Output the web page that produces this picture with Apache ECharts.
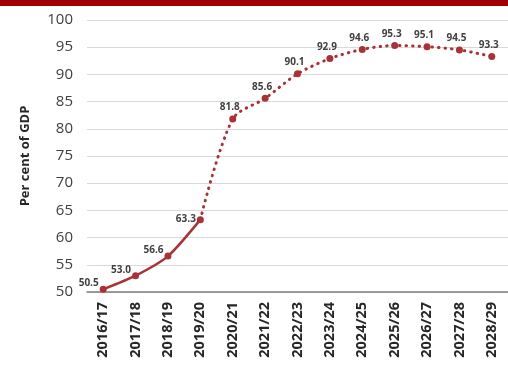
<!DOCTYPE html>
<html>
<head>
<meta charset="utf-8">
<script src="https://cdn.jsdelivr.net/npm/echarts@6/dist/echarts.min.js"></script>
<style>
	html, body { margin: 0; padding: 0; background: #ffffff; }
	.topBar { position: absolute; left: 0; top: 0; width: 508px; height: 6px; background: #a00000; }
	#chart { width: 508px; height: 368px; }
</style>
</head>
<body>
<div id="chart"></div>
<div class="topBar"></div>
<script>
	// 年度和数值
	var years = ['2016/17', '2017/18', '2018/19', '2019/20', '2020/21', '2021/22', '2022/23',
		'2023/24', '2024/25', '2025/26', '2026/27', '2027/28', '2028/29'];
	var actual = [50.5, 53.0, 56.6, 63.3, null, null, null, null, null, null, null, null, null];
	var forecast = [null, null, null, 63.3, 81.8, 85.6, 90.1, 92.9, 94.6, 95.3, 95.1, 94.5, 93.3];
	var yTicks = [50, 55, 60, 65, 70, 75, 80, 85, 90, 95, 100];

	var red = '#a83236';
	var myChart = echarts.init(document.getElementById('chart'));

	var option = {
		animation: false,
		textStyle: { fontFamily: 'Open Sans, Liberation Sans, sans-serif' },
		grid: {
			left: 87,
			top: 20,
			width: 429,
			height: 272
		},
		xAxis: {
			type: 'category',
			data: years,
			boundaryGap: true,
			axisLine: { lineStyle: { color: '#7f7f7f', width: 1.5 } },
			axisTick: { show: false },
			axisLabel: {
				rotate: 90,
				interval: 0,
				margin: 10,
				color: '#262626',
				fontSize: 14.5,
				fontWeight: 'bold'
			}
		},
		yAxis: {
			type: 'value',
			min: yTicks[0],
			max: yTicks[yTicks.length - 1],
			interval: 5,
			name: 'Per cent of GDP',
			nameLocation: 'middle',
			nameRotate: 90,
			nameGap: 55,
			nameTextStyle: { color: '#262626', fontSize: 13, fontWeight: 'bold' },
			axisLine: { show: false },
			axisTick: { show: false },
			axisLabel: { color: '#404040', fontSize: 15, margin: 14 },
			splitLine: { lineStyle: { color: '#d9d9d9', width: 1.2 } }
		},
		series: [{
			name: 'actual',
			type: 'line',
			smooth: 0.25,
			connectNulls: false,
			symbol: 'circle',
			symbolSize: 7,
			itemStyle: { color: red },
			lineStyle: { color: red, width: 2.5 },
			data: actual.map(function (v, i) {
				return {
					value: v,
					label: {
						position: 'left',
						distance: 1,
						offset: i == 3 ? [0, 0] : [0, -6]
					}
				};
			}),
			label: {
				show: true,
				color: '#404040',
				fontSize: 10,
				fontWeight: 'bold',
				formatter: function (p) { return p.value.toFixed(1); }
			},
			z: 3
		}, {
			name: 'forecast',
			type: 'line',
			smooth: 0.3,
			symbol: 'circle',
			symbolSize: 7,
			itemStyle: { color: red },
			lineStyle: { color: red, width: 3, type: [0.5, 6], cap: 'round' },
			data: forecast.map(function (v, i) {
				return {
					value: v,
					symbolSize: i == 3 ? 0 : 7,
					label: { show: v != null && i > 3 }
				};
			}),
			label: {
				show: true,
				position: 'top',
				distance: 3,
				offset: [-3, 0],
				color: '#404040',
				fontSize: 10,
				fontWeight: 'bold',
				formatter: function (p) { return p.value.toFixed(1); }
			},
			z: 2
		}]
	};
	myChart.setOption(option);
</script>
</body>
</html>
